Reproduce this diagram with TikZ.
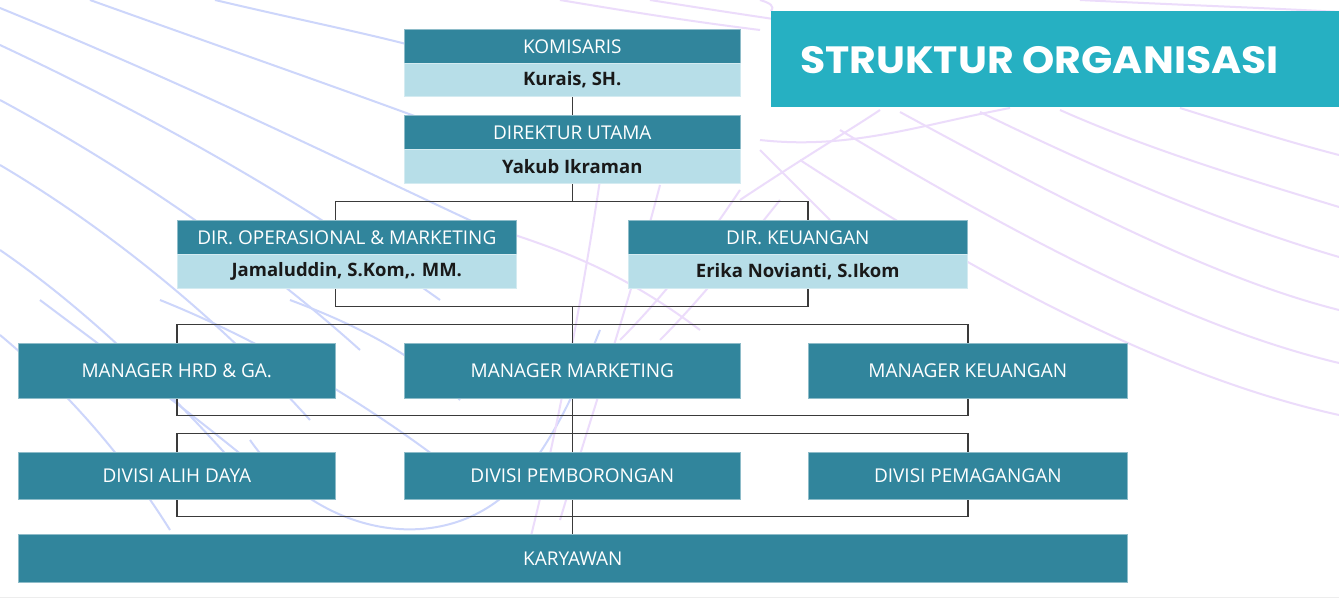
\documentclass[tikz,border=0pt]{standalone}
\usepackage{fontspec}
\setmainfont{Open Sans}
\newfontfamily\titlefont{Poppins}
\usetikzlibrary{calc}
\definecolor{hdr}{HTML}{31859C}
\definecolor{lite}{HTML}{B7DEE8}
\definecolor{ttl}{HTML}{26B0C2}
\definecolor{conncol}{HTML}{3A3A3A}
\definecolor{blu}{HTML}{CDD6FB}
\definecolor{lav}{HTML}{ECDCFB}
\pgfdeclarelayer{deco}
\pgfdeclarelayer{lines}
\pgfsetlayers{deco,lines,main}
\begin{document}
\begin{tikzpicture}[x=1pt,y=-1pt,
  hbox/.style={fill=hdr, draw=hdr!55!white, line width=0.6pt, text=white,
    font=\fontsize{19}{19}\selectfont, inner sep=0pt, anchor=north west},
  nbox/.style={fill=lite, draw=lite!60!white, line width=0.6pt, text=black!90,
    font=\fontsize{18.5}{18.5}\selectfont\bfseries, inner sep=0pt, anchor=north west},
  connline/.style={draw=conncol, line width=1.5pt},
  bluline/.style={draw=blu, line width=2pt},
  lavline/.style={draw=lav, line width=2pt}]
\useasboundingbox (0,0) rectangle (1339,599);

% ---------- boxes ----------
\node[hbox, minimum width=336pt, minimum height=34pt] (kom) at (404,29) {KOMISARIS};
\node[nbox, minimum width=336pt, minimum height=33pt] (komn) at (404,63) {Kurais, SH.};
\node[hbox, minimum width=336pt, minimum height=34pt] (dir) at (404,115) {DIREKTUR UTAMA};
\node[nbox, minimum width=336pt, minimum height=34pt] (dirn) at (404,149) {Yakub Ikraman};
\node[hbox, minimum width=339pt, minimum height=34pt] (ops) at (177,220) {DIR. OPERASIONAL \& MARKETING};
\node[nbox, minimum width=339pt, minimum height=34pt] (opsn) at (177,254) {Jamaluddin, S.Kom,. MM.};
\node[hbox, minimum width=339pt, minimum height=34pt] (keu) at (628,220) {DIR. KEUANGAN};
\node[nbox, minimum width=339pt, minimum height=34pt] (keun) at (628,254) {Erika Novianti, S.Ikom};

\node[hbox, minimum width=317pt, minimum height=55pt] (hrd) at (18,343) {MANAGER HRD \& GA.};
\node[hbox, minimum width=336pt, minimum height=55pt] (mmk) at (404,343) {MANAGER MARKETING};
\node[hbox, minimum width=319pt, minimum height=55pt] (mku) at (808,343) {MANAGER KEUANGAN};

\node[hbox, minimum width=317pt, minimum height=47pt] (dad) at (18,452) {DIVISI ALIH DAYA};
\node[hbox, minimum width=336pt, minimum height=47pt] (dpb) at (404,452) {DIVISI PEMBORONGAN};
\node[hbox, minimum width=319pt, minimum height=47pt] (dpm) at (808,452) {DIVISI PEMAGANGAN};

\node[hbox, minimum width=1109pt, minimum height=48pt] (kar) at (18,534) {KARYAWAN};

% ---------- title ----------
\node[fill=ttl, minimum width=568pt, minimum height=96pt, inner sep=0pt, anchor=north west] (title) at (771,11) {};
\node[anchor=base west, inner sep=0pt, text=white, font=\titlefont\bfseries\fontsize{38}{38}\selectfont] (titletext) at (800,74) {\scalebox{1.08}[1]{STRUKTUR ORGANISASI}};

% ---------- connectors ----------
\path (dirn.south) ++(0,18) coordinate (j1);
\path (j1) ++(0,105) coordinate (j2);
\path (j1) ++(0,123) coordinate (j3);
\path (j1) ++(0,214) coordinate (j4);
\path (j1) ++(0,232) coordinate (j5);
\path (j1) ++(0,315) coordinate (j6);
\begin{pgfonlayer}{lines}
\draw[connline] (komn.south) -- (dir.north);
\draw[connline] (dirn.south) -- (j1);
\draw[connline] (ops.north -| hrd.east) |- (j1) -| (keu.north -| mku.west);
\draw[connline] (opsn.south -| hrd.east) |- (j2) -| (keun.south -| mku.west);
\draw[connline] (j2) -- (j2 |- kar.north);
\draw[connline] (hrd.north) |- (j3) -| (mku.north);
\draw[connline] (hrd.south) |- (j4) -| (mku.south);
\draw[connline] (dad.north) |- (j5) -| (dpm.north);
\draw[connline] (dad.south) |- (j6) -| (dpm.south);
\end{pgfonlayer}

% ---------- background decoration ----------
\begin{pgfonlayer}{deco}
\fill[white] (0,0) rectangle (1339,599);
% blue fan on the left
\draw[bluline] (215,0) .. controls (300,20) and (360,32) .. (410,45);
\draw[bluline] (90,0) .. controls (230,50) and (330,85) .. (420,118);
\draw[bluline] (0,8) .. controls (200,90) and (340,160) .. (480,225);
\draw[bluline] (0,45) .. controls (160,120) and (300,200) .. (440,300);
\draw[bluline] (0,100) .. controls (130,170) and (260,260) .. (360,350);
\draw[bluline] (0,165) .. controls (110,230) and (220,320) .. (310,420);
\draw[bluline] (0,250) .. controls (80,305) and (160,380) .. (240,470);
\draw[bluline] (0,335) .. controls (60,385) and (120,450) .. (170,530);
\draw[bluline] (40,300) .. controls (120,360) and (200,420) .. (260,470);
\draw[bluline] (160,300) .. controls (260,340) and (360,400) .. (440,460);
\draw[bluline] (290,300) .. controls (370,330) and (420,360) .. (460,400);
\draw[bluline] (250,440) .. controls (320,540) and (450,560) .. (520,480) .. controls (560,430) and (580,380) .. (600,330);
% lavender in the middle
\draw[lavline] (600,180) .. controls (585,280) and (560,420) .. (530,540);
\draw[lavline] (660,185) .. controls (630,300) and (590,420) .. (560,520);
\draw[lavline] (500,230) .. controls (560,250) and (620,270) .. (700,330);
\draw[lavline] (740,190) .. controls (700,250) and (660,300) .. (620,340);
\draw[lavline] (780,200) .. controls (740,250) and (700,300) .. (660,340);
\draw[lavline] (560,0) .. controls (620,10) and (680,20) .. (760,30);
\draw[lavline] (650,0) .. controls (700,8) and (740,14) .. (780,20);
\draw[lavline] (760,140) .. controls (850,150) and (920,125) .. (1010,108);
\draw[lavline] (760,150) .. controls (780,170) and (800,190) .. (830,220);
\draw[lavline] (740,200) .. controls (800,160) and (850,130) .. (880,110);
% lavender on the right
\draw[lavline] (1060,110) .. controls (1150,150) and (1250,180) .. (1339,207);
\draw[lavline] (980,112) .. controls (1120,180) and (1230,225) .. (1339,257);
\draw[lavline] (900,112) .. controls (1080,210) and (1220,280) .. (1339,310);
\draw[lavline] (840,130) .. controls (1040,250) and (1200,330) .. (1339,363);
\draw[lavline] (800,160) .. controls (1000,290) and (1180,380) .. (1339,415);
\draw[lavline] (1180,108) .. controls (1250,130) and (1300,145) .. (1339,155);
\draw[lavline] (1080,0) .. controls (1180,5) and (1270,8) .. (1339,12);
\draw[lavline] (760,0) .. controls (770,3) and (775,6) .. (771,11);
\end{pgfonlayer}
\draw[draw=black!7, line width=1.5pt] (0,597.5) -- (1339,597.5);
\end{tikzpicture}
\end{document}
